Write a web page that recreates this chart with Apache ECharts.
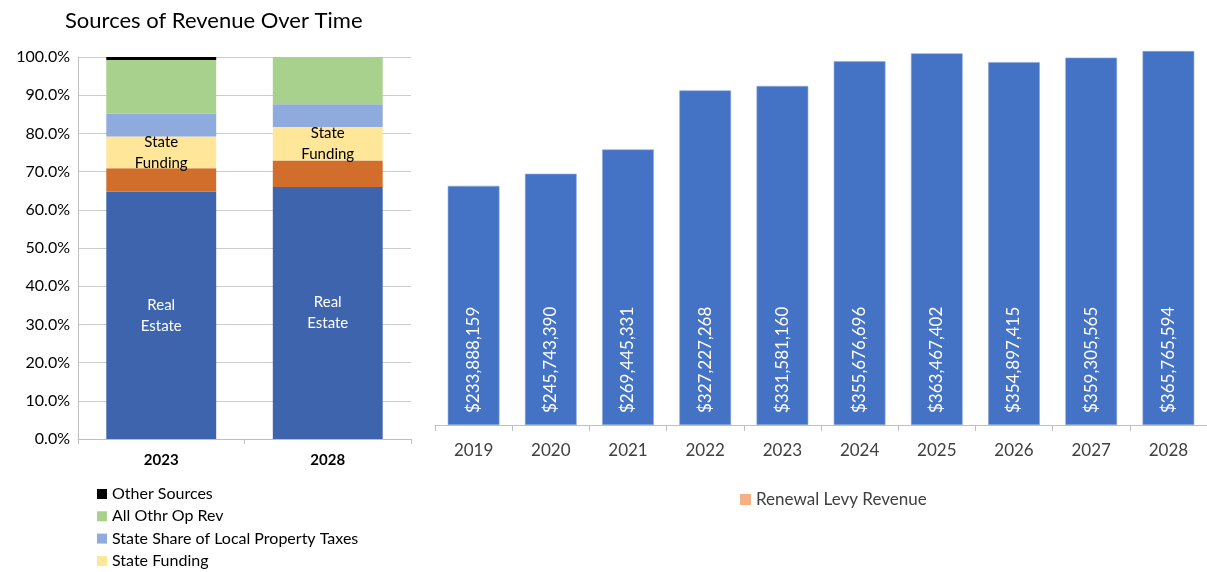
<!DOCTYPE html>
<html>
<head>
<meta charset="utf-8">
<script src="https://cdn.jsdelivr.net/npm/echarts@6/dist/echarts.min.js"></script>
<style>
html,body{margin:0;padding:0;background:#fff;}
#main{width:1207px;height:572px;}
</style>
</head>
<body>
<div id="main"></div>
<script>
// ---- Left chart data (share of revenue, %) ----
const leftCategories = ['2023', '2028'];
const realEstate   = [64.7, 66.0];
const renewalLevy  = [6.2, 6.9];
const stateFunding = [8.3, 8.8];
const stateShare   = [6.0, 5.9];
const allOthrOpRev = [14.0, 12.4];
const otherSources = [0.8, 0.0];

// ---- Right chart data ----
const years = ['2019','2020','2021','2022','2023','2024','2025','2026','2027','2028'];
const renewalRevenue = [233888159, 245743390, 269445331, 327227268, 331581160,
                        355676696, 363467402, 354897415, 359305565, 365765594];

const FONT = 'Lato, "Open Sans", sans-serif';
const chart = echarts.init(document.getElementById('main'));

function seg(name, data, color, label) {
  return {
    name: name, type: 'bar', stack: 'share', xAxisIndex: 0, yAxisIndex: 0,
    data: data, barWidth: '66%',
    itemStyle: { color: color },
    label: label || { show: false },
    emphasis: { disabled: true }
  };
}

chart.setOption({
  animation: false,
  textStyle: { fontFamily: FONT },
  title: {
    text: 'Sources of Revenue Over Time',
    left: 60, top: 5,
    textStyle: { fontFamily: FONT, fontSize: 22, fontWeight: 'normal', color: '#000' }
  },
  legend: [
    {
      orient: 'vertical', left: 92, top: 481, height: 200,
      icon: 'rect', itemWidth: 10, itemHeight: 10, itemGap: 6.3,
      textStyle: { fontFamily: FONT, fontSize: 16, color: '#000', lineHeight: 16 },
      data: ['Other Sources', 'All Othr Op Rev', 'State Share of Local Property Taxes', 'State Funding'],
      selectedMode: false
    },
    {
      orient: 'horizontal', left: 735, top: 486,
      icon: 'rect', itemWidth: 11, itemHeight: 11, itemGap: 4,
      textStyle: { fontFamily: FONT, fontSize: 17, color: '#404040' },
      data: [{ name: 'Renewal Levy Revenue', itemStyle: { color: '#F4B183', borderWidth: 0 } }],
      selectedMode: false
    }
  ],
  grid: [
    { left: 78, right: 796, top: 57, bottom: 133 },
    { left: 435, right: -4, top: 16, bottom: 147 }
  ],
  xAxis: [
    {
      gridIndex: 0, type: 'category', data: leftCategories,
      axisLine: { lineStyle: { color: '#bfbfbf' } },
      axisTick: { show: true, length: 5, lineStyle: { color: '#bfbfbf' } },
      axisLabel: { fontFamily: FONT, fontSize: 15, fontWeight: 'bold', color: '#000', margin: 14 }
    },
    {
      gridIndex: 1, type: 'category', data: years,
      axisLine: { lineStyle: { color: '#bfbfbf' } },
      axisTick: { show: true, length: 6, lineStyle: { color: '#bfbfbf' } },
      axisLabel: { fontFamily: FONT, fontSize: 17, color: '#404040', margin: 17 }
    }
  ],
  yAxis: [
    {
      gridIndex: 0, type: 'value', min: 0, max: 100, interval: 10,
      axisLine: { show: true, lineStyle: { color: '#bfbfbf' } },
      axisTick: { show: false },
      splitLine: { show: true, lineStyle: { color: '#cccccc' } },
      axisLabel: { fontFamily: FONT, fontSize: 16, color: '#000', margin: 8,
        formatter: function (v) { return v.toFixed(1) + '%'; } }
    },
    {
      gridIndex: 1, type: 'value', min: 0, max: 400000000,
      show: false, splitLine: { show: false }
    }
  ],
  series: [
    seg('Real Estate', realEstate, '#3D64AD', {
      show: true, position: 'inside', formatter: 'Real\nEstate',
      color: '#fff', fontFamily: FONT, fontSize: 15, lineHeight: 21
    }),
    seg('Renewal Levy', renewalLevy, '#D16E2B'),
    seg('State Funding', stateFunding, '#FFE699', {
      show: true, position: 'inside', formatter: 'State\nFunding',
      color: '#000', fontFamily: FONT, fontSize: 15, lineHeight: 21
    }),
    seg('State Share of Local Property Taxes', stateShare, '#8FAADC'),
    seg('All Othr Op Rev', allOthrOpRev, '#A9D18E'),
    seg('Other Sources', otherSources, '#000000'),
    {
      name: 'Renewal Levy Revenue', type: 'bar', xAxisIndex: 1, yAxisIndex: 1,
      data: renewalRevenue, barWidth: '67%',
      itemStyle: { color: '#4472C4', borderColor: '#8FAADC', borderWidth: 0.6 },
      emphasis: { disabled: true },
      label: {
        show: true, position: 'insideBottom', rotate: 90,
        align: 'left', verticalAlign: 'middle', distance: 12,
        color: '#fff', fontFamily: FONT, fontSize: 17,
        formatter: function (p) { return '$' + p.value.toLocaleString('en-US'); }
      }
    }
  ]
});
</script>
</body>
</html>
